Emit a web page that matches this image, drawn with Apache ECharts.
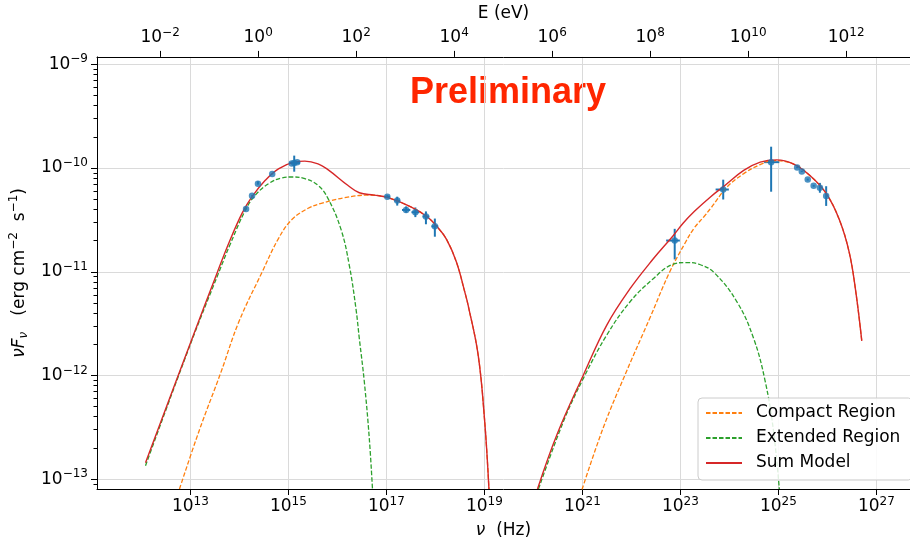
<!DOCTYPE html>
<html>
<head>
<meta charset="utf-8">
<title>SED</title>
<script src="https://cdn.jsdelivr.net/npm/echarts@6/dist/echarts.min.js"></script>
<style>
  html, body { margin: 0; padding: 0; background: #fff; }
  #chart { width: 910px; height: 550px; }
</style>
</head>
<body>
<div id="chart"></div>
<script>
// all values are log10: nu in Hz, nuFnu in erg cm^-2 s^-1 (null = curve leaves the plot)
var compactNu = [12.778, 13.182, 13.62, 13.99, 14.461, 14.798, 15.067, 15.404, 15.673, 16.145, 16.616, 16.953, 17.491, 17.828, 18.03, 18.232, 18.434, 18.602, 18.67, 18.873, 19.006, 19.094, null,
  20.994, 21.43, 21.903, 22.374, 22.778, 23.1, 23.283, 23.485, 23.62, 23.956, 24.293, 24.63, 24.899, 25.303, 25.64, 25.976, 26.246, 26.448, 26.582, 26.703]
var compactFlux = [-13.095, -12.53, -11.975, -11.483, -11.007, -10.68, -10.499, -10.388, -10.34, -10.286, -10.261, -10.276, -10.373, -10.469, -10.564, -10.692, -10.913, -11.199, -11.326, -11.802, -12.437, -13.095, null,
  -13.1, -12.5, -11.959, -11.451, -11.007, -10.72, -10.578, -10.467, -10.388, -10.181, -10.054, -9.966, -9.928, -9.96, -10.071, -10.246, -10.5, -10.817, -11.198, -11.668]

var extendedNu = [12.085, 13.0, 13.586, 13.8, 14.125, 14.327, 14.596, 14.865, 15.067, 15.337, 15.606, 15.808, 16.077, 16.246, 16.38, 16.448, 16.549, 16.65, 16.717, null,
  20.105, 20.622, 21.026, 21.499, 21.97, 22.44, 22.845, 23.115, 23.384, 23.687, 24.158, 24.495, 24.731, 24.9, 25.02]
var extendedFlux = [-12.87, -11.7, -11.0, -10.75, -10.404, -10.261, -10.15, -10.095, -10.086, -10.102, -10.166, -10.292, -10.594, -10.943, -11.356, -11.642, -12.054, -12.594, -13.095, null,
  -13.095, -12.435, -12.023, -11.61, -11.292, -11.07, -10.928, -10.911, -10.928, -11.007, -11.292, -11.642, -12.054, -12.53, -13.095]

var sumNu = [12.085, 13.0, 13.55, 13.788, 14.057, 14.259, 14.529, 14.798, 15.115, 15.337, 15.606, 15.808, 16.212, 16.448, 16.751, 17.02, 17.491, 17.828, 18.03, 18.232, 18.434, 18.602, 18.67, 18.873, 19.006, 19.094, null,
  20.085, 20.489, 21.026, 21.499, 21.97, 22.44, 22.845, 23.06, 23.283, 23.62, 23.875, 24.293, 24.63, 24.966, 25.303, 25.64, 25.976, 26.246, 26.448, 26.582, 26.703]
var sumFlux = [-12.842, -11.69, -11.007, -10.72, -10.435, -10.276, -10.118, -10.007, -9.943, -9.933, -9.959, -10.015, -10.166, -10.238, -10.261, -10.283, -10.371, -10.467, -10.562, -10.69, -10.911, -11.197, -11.324, -11.8, -12.435, -13.095, null,
  -13.095, -12.562, -11.99, -11.514, -11.166, -10.88, -10.657, -10.53, -10.419, -10.276, -10.181, -10.023, -9.943, -9.921, -9.959, -10.07, -10.245, -10.499, -10.816, -11.197, -11.667]

// measured points with error bars
var ptNu = [14.137, 14.259, 14.38, 14.671, 15.07, 15.12, 15.18, 17.02, 17.222, 17.404, 17.592, 17.808, 17.99, 22.885, 23.875, 24.853, 25.384, 25.479, 25.6, 25.721, 25.848, 25.976]
var ptNuLo = [14.137, 14.259, 14.38, 14.671, 15.07, 15.02, 15.18, 16.965, 17.162, 17.32, 17.512, 17.738, 17.92, 22.71, 23.72, 24.71, 25.384, 25.479, 25.6, 25.721, 25.848, 25.976]
var ptNuHi = [14.137, 14.259, 14.38, 14.671, 15.07, 15.24, 15.18, 17.075, 17.282, 17.489, 17.672, 17.878, 18.06, 22.99, 23.99, 25.02, 25.384, 25.479, 25.6, 25.721, 25.848, 25.976]
var ptFlux = [-10.394, -10.267, -10.152, -10.057, -9.955, -9.95, -9.945, -10.276, -10.314, -10.404, -10.426, -10.467, -10.562, -10.699, -10.207, -9.943, -9.994, -10.032, -10.111, -10.171, -10.19, -10.27]
var ptFluxLo = [-10.4, -10.272, -10.16, -10.062, -9.96, -10.035, -9.95, -10.29, -10.362, -10.43, -10.473, -10.542, -10.662, -10.881, -10.303, -10.228, -10.0, -10.038, -10.12, -10.18, -10.238, -10.365]
var ptFluxHi = [-10.388, -10.262, -10.128, -10.052, -9.95, -9.88, -9.94, -10.262, -10.276, -10.37, -10.38, -10.418, -10.487, -10.586, -10.112, -9.794, -9.988, -10.026, -10.102, -10.162, -10.143, -10.175]

// axes (log10 units)
var nuMin = 11.095
var nuMax = 27.687
var fluxMin = -13.095
var fluxMax = -8.928
var nuTicks = [13, 15, 17, 19, 21, 23, 25, 27]
var eTicks = [-2, 0, 2, 4, 6, 8, 10, 12]
var fluxTicks = [-13, -12, -11, -10, -9]
var logHzPerEv = 14.3835 // log10(1 eV / h)

var FONT = 'DejaVu Sans'

function pairs(xs, ys) {
  var out = []
  for (var i = 0; i < xs.length; i++) {
    if (xs[i] === null) out.push(['-', '-'])
    else out.push([xs[i], ys[i]])
  }
  return out
}

function powLabel(v) {
  var e = Math.round(v)
  return '{b|10}{s|' + (e < 0 ? '\u2212' + (-e) : e) + '}'
}

var tickRich = {
  b: { fontFamily: FONT, fontSize: 17, lineHeight: 22, color: '#000' },
  s: { fontFamily: FONT, fontSize: 12, lineHeight: 12, verticalAlign: 'top', color: '#000' }
}

// minor ticks on the y axis at 2..9 x 10^n
var minorTicks = []
for (var n = -14; n <= -9; n++) {
  for (var k = 2; k <= 9; k++) {
    var v = n + Math.log10(k)
    if (v > fluxMin && v < fluxMax) minorTicks.push(v)
  }
}

var errRows = []
var ptRows = []
for (var i = 0; i < ptNu.length; i++) {
  errRows.push([ptNu[i], ptFlux[i], ptFluxLo[i], ptFluxHi[i], ptNuLo[i], ptNuHi[i]])
  ptRows.push([ptNu[i], ptFlux[i]])
}

var gridColor = '#dadada'
var dash = [4.5, 2]

function curve(name, xs, ys, color, width, type) {
  return {
    name: name,
    type: 'line',
    data: pairs(xs, ys),
    symbol: 'none',
    smooth: 0.4,
    color: color,
    lineStyle: { color: color, width: width, type: type }
  }
}

var chart = echarts.init(document.getElementById('chart'))
chart.setOption({
  animation: false,
  backgroundColor: '#fff',
  grid: { left: 97, top: 52, right: -8, bottom: 61 },
  graphic: [{
    type: 'text',
    left: 410,
    top: 75,
    style: {
      text: 'Preliminary',
      fill: '#ff2600',
      font: 'bold 36px "Liberation Sans", Arial, sans-serif'
    }
  }],
  legend: {
    data: ['Compact Region', 'Extended Region', 'Sum Model'],
    orient: 'vertical',
    left: 698,
    top: 398,
    itemWidth: 36,
    itemHeight: 12,
    itemGap: 5,
    padding: [5, 12, 7, 7],
    itemStyle: { opacity: 0 },
    backgroundColor: 'rgba(255,255,255,0.85)',
    borderColor: '#cccccc',
    borderWidth: 1,
    borderRadius: 4,
    textStyle: { fontFamily: FONT, fontSize: 17, lineHeight: 20, color: '#000', padding: [0, 0, 0, 9] }
  },
  xAxis: [{
    type: 'value',
    position: 'bottom',
    min: nuMin,
    max: nuMax,
    name: '{i|\u03bd}{t|  (Hz)}',
    nameLocation: 'middle',
    nameGap: 33,
    nameTextStyle: {
      rich: {
        i: { fontFamily: FONT, fontSize: 17, fontStyle: 'italic', color: '#000' },
        t: { fontFamily: FONT, fontSize: 17, color: '#000' }
      }
    },
    axisLine: { onZero: false, lineStyle: { color: '#000', width: 1 } },
    axisTick: { length: 6, customValues: nuTicks, lineStyle: { color: '#000', width: 1 } },
    axisLabel: { customValues: nuTicks, margin: 7, formatter: powLabel, rich: tickRich },
    splitLine: { show: true, lineStyle: { color: gridColor, width: 1 } }
  }, {
    type: 'value',
    position: 'top',
    min: nuMin - logHzPerEv,
    max: nuMax - logHzPerEv,
    name: 'E (eV)',
    nameLocation: 'middle',
    nameGap: 31,
    nameTextStyle: { fontFamily: FONT, fontSize: 17, color: '#000' },
    axisLine: { onZero: false, lineStyle: { color: '#000', width: 1 } },
    axisTick: { length: 6, customValues: eTicks, lineStyle: { color: '#000', width: 1 } },
    axisLabel: { customValues: eTicks, margin: 8, formatter: powLabel, rich: tickRich },
    splitLine: { show: false }
  }],
  yAxis: [{
    type: 'value',
    position: 'left',
    min: fluxMin,
    max: fluxMax,
    name: '{i|\u03bdF}{d|\u03bd}{t|   (erg cm}{u|\u22122}{t|  s}{u|\u22121}{t|)}',
    nameLocation: 'middle',
    nameRotate: 90,
    nameGap: 64,
    nameTextStyle: {
      rich: {
        i: { fontFamily: FONT, fontSize: 17, lineHeight: 22, fontStyle: 'italic', color: '#000' },
        d: { fontFamily: FONT, fontSize: 12, lineHeight: 12, fontStyle: 'italic', verticalAlign: 'bottom', color: '#000' },
        t: { fontFamily: FONT, fontSize: 17, lineHeight: 22, color: '#000' },
        u: { fontFamily: FONT, fontSize: 12, lineHeight: 12, verticalAlign: 'top', color: '#000' }
      }
    },
    axisLine: { onZero: false, lineStyle: { color: '#000', width: 1 } },
    axisTick: { length: 6, customValues: fluxTicks, lineStyle: { color: '#000', width: 1 } },
    axisLabel: { customValues: fluxTicks, margin: 9, formatter: powLabel, rich: tickRich },
    splitLine: { show: true, lineStyle: { color: gridColor, width: 1 } }
  }, {
    // minor ticks only
    type: 'value',
    position: 'left',
    min: fluxMin,
    max: fluxMax,
    axisLine: { show: false, onZero: false },
    axisTick: { length: 3.5, customValues: minorTicks, lineStyle: { color: '#000', width: 1 } },
    axisLabel: { show: false },
    splitLine: { show: false }
  }],
  series: [
    curve('Compact Region', compactNu, compactFlux, '#ff7f0e', 1.3, dash),
    curve('Extended Region', extendedNu, extendedFlux, '#2ca02c', 1.3, dash),
    curve('Sum Model', sumNu, sumFlux, '#d62728', 1.4, 'solid'),
    {
      name: 'errors',
      type: 'custom',
      data: errRows,
      encode: { x: 0, y: 1 },
      renderItem: function (params, api) {
        var x = api.value(0)
        var y = api.value(1)
        var a = api.coord([x, api.value(2)])
        var b = api.coord([x, api.value(3)])
        var c = api.coord([api.value(4), y])
        var d = api.coord([api.value(5), y])
        var st = { stroke: '#1f77b4', lineWidth: 2 }
        return {
          type: 'group',
          children: [
            { type: 'line', shape: { x1: a[0], y1: a[1], x2: b[0], y2: b[1] }, style: st },
            { type: 'line', shape: { x1: c[0], y1: c[1], x2: d[0], y2: d[1] }, style: st }
          ]
        }
      },
      z: 3
    },
    {
      name: 'data',
      type: 'scatter',
      data: ptRows,
      symbol: 'circle',
      symbolSize: 6.5,
      itemStyle: { color: '#1f77b4' },
      z: 4
    }
  ]
})
</script>
</body>
</html>
